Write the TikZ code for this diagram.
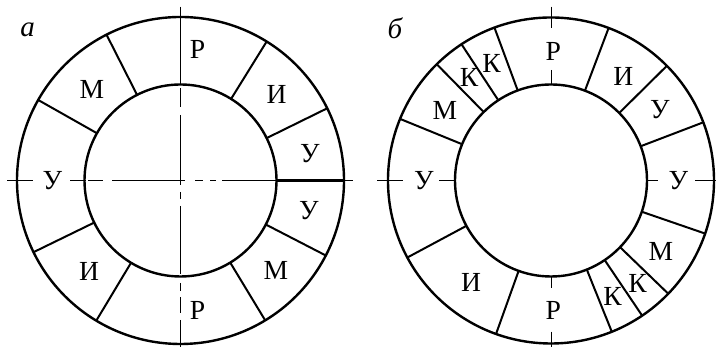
\documentclass[tikz,border=0pt]{standalone}
\usepackage{fontspec}
\setmainfont{Liberation Serif}
\begin{document}
\begin{tikzpicture}[x=1pt,y=1pt,
  ring/.style={line width=2.4pt},
  sepline/.style={line width=2pt},
  axisline/.style={line width=0.9pt},
  lab/.style={inner sep=0pt,font=\fontsize{27.6}{30}\selectfont},
  tag/.style={inner sep=0pt,font=\fontsize{29}{32}\selectfont\itshape}]
\useasboundingbox (0,0) rectangle (716,347);
\coordinate (L) at (180.5,166.5);
\coordinate (R) at (551,166.5);
% ---- left ring ----
\draw[ring] (L) circle[radius=163.5];
\draw[ring] (L) circle[radius=96];
\foreach \a in {26.2,58.2,116.9,150.5,206,239,301.2,332.7}
  \draw[sepline,shift={(L)}] (\a:96) -- (\a:163.5);
\draw[ring,shift={(L)}] (0:96) -- (0:163.5);
% left axes (pixel coordinates from top)
\foreach \p/\q in {7/33,70/86,88/103,112/185,195/203,210/216,222/277,343/353}
  \draw[axisline] ({\p},166.5) -- ({\q},166.5);
\foreach \p/\q in {6.7/84,88/107,115/185,192/199,206/274,283/291,297/313,320/347}
  \draw[axisline] (180.5,{347-\p}) -- (180.5,{347-\q});
% left labels
\node[lab] (lr1) at (197.5,297.8) {Р};
\node[lab] (li1) at (276.7,252.8) {И};
\node[lab] (lu1) at (310,193) {У};
\node[lab] (lu2) at (309,136) {У};
\node[lab] (lm1) at (275.8,77) {М};
\node[lab] (lr2) at (197.5,37) {Р};
\node[lab] (li2) at (89,75.3) {И};
\node[lab] (lu3) at (52.5,166) {У};
\node[lab] (lm2) at (92,257.5) {М};
\node[tag] (ta) at (27.5,317) {а};
% ---- right ring ----
\draw[ring] (R) circle[radius=163];
\draw[ring] (R) circle[radius=96];
\foreach \a in {20.9,44.7,69.3,110.3,123.3,134.5,157.8,208.2,250.3,291.9,304,316,341}
  \draw[sepline,shift={(R)}] (\a:96) -- (\a:163);
% right axes
\foreach \p/\q in {6.7/28.3,70/84,276.7/288.3,331.7/347}
  \draw[axisline] (551,{347-\p}) -- (551,{347-\q});
\foreach \p/\q in {377.3/403.3,439.3/455,647.3/658.3,695/716}
  \draw[axisline] ({\p},166.5) -- ({\q},166.5);
% right labels
\node[lab] (rr1) at (553.3,295.3) {Р};
\node[lab] (ri1) at (623.3,270.7) {И};
\node[lab] (ru1) at (660,237.3) {У};
\node[lab] (ru2) at (678.3,166) {У};
\node[lab] (rm1) at (661,95.3) {М};
\node[lab] (rk1) at (637.5,63.3) {К};
\node[lab] (rk2) at (612.5,50.3) {К};
\node[lab] (rr2) at (553.3,36.2) {Р};
\node[lab] (ri2) at (471,65) {И};
\node[lab] (ru3) at (424,166) {У};
\node[lab] (rm2) at (445,236.3) {М};
\node[lab] (rk3) at (469,269.5) {К};
\node[lab] (rk4) at (491.7,284) {К};
\node[tag] (tb) at (395,319) {б};
\end{tikzpicture}
\end{document}
